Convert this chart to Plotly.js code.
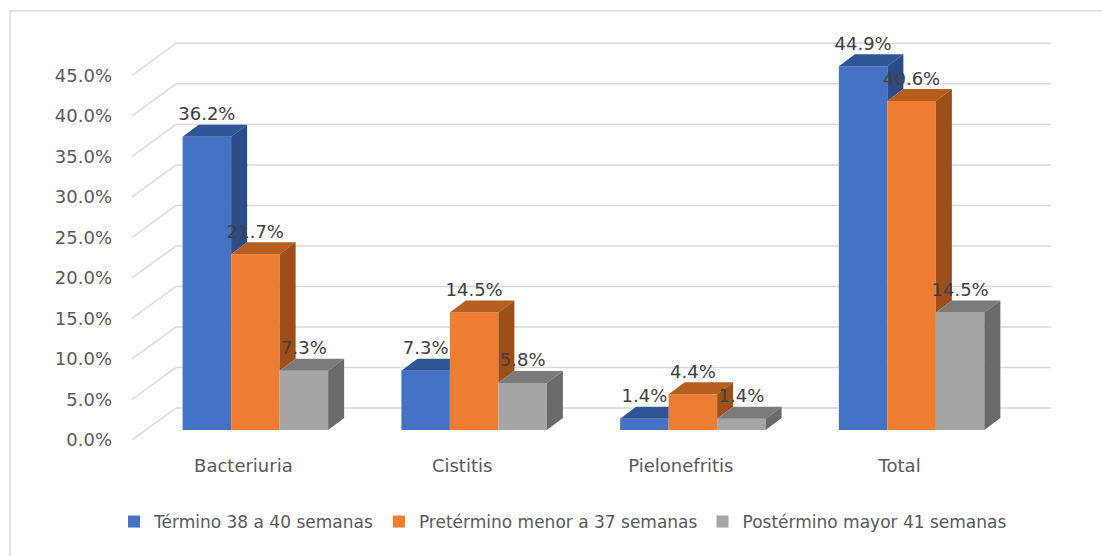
<!DOCTYPE html>
<html>
<head>
<meta charset="utf-8">
<script src="https://cdn.plot.ly/plotly-3.0.1.min.js"></script>
<style>html,body{margin:0;padding:0;background:#fff}#chart{width:1102px;height:556px}</style>
</head>
<body>
<div id="chart"></div>
<script>
// ---- data ----
const categories = ['Bacteriuria', 'Cistitis', 'Pielonefritis', 'Total'];
const seriesNames = ['Término 38 a 40 semanas', 'Pretérmino menor a 37 semanas', 'Postérmino mayor 41 semanas'];
const termino = [36.2, 7.3, 1.4, 44.9];
const pretermino = [21.7, 14.5, 4.4, 40.6];
const postermino = [7.3, 5.8, 1.4, 14.5];
const yTickValues = [0, 5, 10, 15, 20, 25, 30, 35, 40, 45];

// ---- styling / geometry ----
const frontColors = ['#4472C4', '#ED7D31', '#A5A5A5'];
const topColors = ['#2F5597', '#B65E1E', '#7B7B7B'];
const sideColors = ['#2B4C87', '#9E4F19', '#6A6A6A'];
const FONT = 'DejaVu Sans';
const FS = 18;
const W = 1102, H = 556;
const PX_X = 218.75, PX_Y = 8.1;          // px per category unit / per percent
const DX = 16 / PX_X, DY = 12 / PX_Y;     // bar depth projection
const FX = -14 / PX_X, FY = -10 / PX_Y;   // floor front edge relative to bar plane
const BX = 30 / PX_X, BY = 22 / PX_Y;     // back wall relative to bar plane
const BAR_W = 48.5 / PX_X;
const offsets = [-1.5 * BAR_W, -0.5 * BAR_W, 0.5 * BAR_W];
const xRange = [-0.5 + FX, 3.5 + BX];
const yRange = [FY, 48.5];
const marginL = 132, marginB = 116;
const plotW = (xRange[1] - xRange[0]) * PX_X;
const plotH = (yRange[1] - yRange[0]) * PX_Y;
const marginR = W - marginL - plotW;
const marginT = H - marginB - plotH;

const series = [termino, pretermino, postermino];
const xIdx = categories.map((c, i) => i);
const traces = [];

// front faces
series.forEach((vals, k) => {
  traces.push({
    type: 'bar', name: seriesNames[k], x: xIdx, y: vals,
    width: BAR_W, offset: offsets[k],
    marker: {color: frontColors[k], line: {width: 0}},
    hoverinfo: 'skip'
  });
});

// top and side faces
function poly(pts, color) {
  traces.push({
    type: 'scatter', mode: 'lines', fill: 'toself', fillcolor: color,
    x: pts.map(p => p[0]), y: pts.map(p => p[1]),
    line: {width: 0, color: color}, showlegend: false, hoverinfo: 'skip'
  });
}
series.forEach((vals, k) => {
  vals.forEach((v, i) => {
    const xl = i + offsets[k], xr = xl + BAR_W;
    const next = k < series.length - 1 ? series[k + 1][i] : null;
    let top;
    if (next === null || next <= v) {
      top = [[xl, v], [xr, v], [xr + DX, v + DY], [xl + DX, v + DY]];
    } else if (next >= v + DY) {
      top = [[xl, v], [xr, v], [xr, v + DY], [xl + DX, v + DY]];
    } else {
      top = [[xl, v], [xr, v], [xr, next], [xr + DX * (next - v) / DY, next], [xr + DX, v + DY], [xl + DX, v + DY]];
    }
    poly(top, topColors[k]);
    const base = next === null ? 0 : next;
    if (v > base) {
      poly([[xr, base], [xr, v], [xr + DX, v + DY], [xr + DX, base + DY]], sideColors[k]);
    }
  });
});

// data labels
series.forEach((vals, k) => {
  traces.push({
    type: 'scatter', mode: 'text',
    x: xIdx.map(i => i + offsets[k] + BAR_W / 2),
    y: vals.map(v => v + DY),
    text: vals.map(v => v.toFixed(1) + '%'),
    textposition: 'top center',
    textfont: {family: FONT, size: FS, color: '#404040'},
    cliponaxis: false, showlegend: false, hoverinfo: 'skip'
  });
});

// back wall gridlines and left wall connectors
const shapes = [];
yTickValues.forEach(t => {
  shapes.push({type: 'line', xref: 'x', yref: 'y', layer: 'below',
    x0: -0.5 + FX, y0: t + FY, x1: -0.5 + BX, y1: t + BY,
    line: {color: '#D9D9D9', width: 1.5}});
  shapes.push({type: 'line', xref: 'x', yref: 'y', layer: 'below',
    x0: -0.5 + BX, y0: t + BY, x1: xRange[1], y1: t + BY,
    line: {color: '#D9D9D9', width: 1.5}});
});
// chart border
shapes.push({type: 'rect', xref: 'paper', yref: 'paper', layer: 'below',
  x0: (10 - marginL) / plotW, x1: (1112 - marginL) / plotW,
  y0: (H - marginB - 566) / plotH, y1: (H - marginB - 11) / plotH,
  line: {color: '#D9D9D9', width: 1.5}, fillcolor: 'rgba(0,0,0,0)'});

const layout = {
  width: W, height: H,
  margin: {l: marginL, r: marginR, t: marginT, b: marginB, pad: 0},
  paper_bgcolor: '#FFFFFF', plot_bgcolor: 'rgba(0,0,0,0)',
  barmode: 'overlay',
  showlegend: true,
  font: {family: FONT, size: FS, color: '#595959'},
  xaxis: {
    range: xRange, tickvals: xIdx, ticktext: categories,
    showgrid: false, zeroline: false, showline: false, ticks: '',
    ticklabelshift: -12, ticklabelstandoff: 13,
    tickfont: {family: FONT, size: FS, color: '#595959'}, fixedrange: true
  },
  yaxis: {
    range: yRange, tickvals: yTickValues.map(t => t + FY),
    ticktext: yTickValues.map(t => t.toFixed(1) + '%'),
    showgrid: false, zeroline: false, showline: false, ticks: '',
    ticklabelstandoff: 19,
    tickfont: {family: FONT, size: FS, color: '#595959'}, fixedrange: true
  },
  legend: {
    orientation: 'h', xref: 'container', yref: 'container',
    x: 563 / W, xanchor: 'center', y: 1 - 522 / H, yanchor: 'middle',
    font: {family: FONT, size: 17, color: '#595959'},
    itemwidth: 30, traceorder: 'normal'
  },
  shapes: shapes
};

Plotly.newPlot('chart', traces, layout, {displayModeBar: false, staticPlot: true});
</script>
</body>
</html>
